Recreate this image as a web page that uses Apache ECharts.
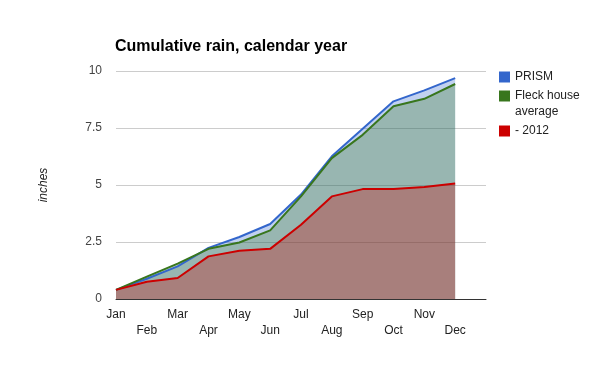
<!DOCTYPE html>
<html>
<head>
<meta charset="utf-8">
<script src="https://cdn.jsdelivr.net/npm/echarts@6/dist/echarts.min.js"></script>
<style>html,body{margin:0;padding:0;background:#fff}#c{width:600px;height:371px}</style>
</head>
<body>
<div id="c"></div>
<script>
var months = ['Jan','Feb','Mar','Apr','May','Jun','Jul','Aug','Sep','Oct','Nov','Dec'];
var prism = [0.40, 0.89, 1.43, 2.24, 2.72, 3.29, 4.58, 6.26, 7.47, 8.67, 9.15, 9.69];
var fleck = [0.40, 0.98, 1.55, 2.20, 2.48, 3.01, 4.50, 6.18, 7.20, 8.45, 8.78, 9.43];
var y2012 = [0.40, 0.76, 0.92, 1.87, 2.12, 2.20, 3.26, 4.50, 4.82, 4.82, 4.91, 5.07];
var yTicks = [0, 2.5, 5, 7.5, 10];

function pts(arr){ return months.map(function(m,i){ return [i, arr[i]]; }); }
var font = 'Arial, "Liberation Sans", sans-serif';
function ser(name, color, arr){
  return {name:name, type:'line', data:pts(arr), showSymbol:false, symbol:'none',
    lineStyle:{color:color, width:2}, itemStyle:{color:color},
    areaStyle:{color:color, opacity:0.3}};
}
var legText = {fontSize:12, color:'#222', lineHeight:16, fontFamily:font};
var chart = echarts.init(document.getElementById('c'), null, {renderer:'canvas'});
chart.setOption({
  animation:false,
  textStyle:{fontFamily:font},
  title:{text:'Cumulative rain, calendar year', left:110, top:34,
    textStyle:{fontSize:16, fontWeight:'bold', color:'#000', fontFamily:font}},
  grid:{left:116, right:114, top:71, bottom:72, containLabel:false},
  xAxis:{type:'value', min:0, max:12, interval:1,
    axisLine:{show:true, lineStyle:{color:'#333', width:1}},
    axisTick:{show:false}, splitLine:{show:false},
    axisLabel:{color:'#222', fontSize:12, margin:8, lineHeight:16, fontFamily:font,
      showMaxLabel:false,
      formatter:function(v){ var m = months[v]; if(!m) return ''; return v%2 ? '\n'+m : m; }}},
  yAxis:{type:'value', min:yTicks[0], max:yTicks[yTicks.length-1], interval:2.5,
    name:'inches', nameLocation:'middle', nameGap:66, nameRotate:90,
    nameTextStyle:{fontStyle:'italic', fontSize:12, color:'#222', fontFamily:font},
    axisLine:{show:false}, axisTick:{show:false},
    splitLine:{lineStyle:{color:'#ccc', width:1}},
    axisLabel:{color:'#444', fontSize:12, margin:14, fontFamily:font}},
  legend:[
    {data:['PRISM'], left:499, top:69, padding:0, orient:'vertical', icon:'rect', itemWidth:11, itemHeight:11,
      selectedMode:false, textStyle:legText},
    {data:['Fleck house average'], left:499, top:88, padding:0, orient:'vertical', icon:'rect', itemWidth:11, itemHeight:11,
      selectedMode:false, formatter:function(){ return 'Fleck house'; }, textStyle:legText},
    {data:['- 2012'], left:499, top:123, padding:0, orient:'vertical', icon:'rect', itemWidth:11, itemHeight:11,
      selectedMode:false, textStyle:legText}
  ],
  graphic:[{type:'text', left:515, top:106, style:{text:'average', fill:'#222', font:'12px '+font}}],
  series:[
    ser('PRISM', '#3366cc', prism),
    ser('Fleck house average', '#38761d', fleck),
    ser('- 2012', '#cc0000', y2012)
  ]
});
</script>
</body>
</html>
